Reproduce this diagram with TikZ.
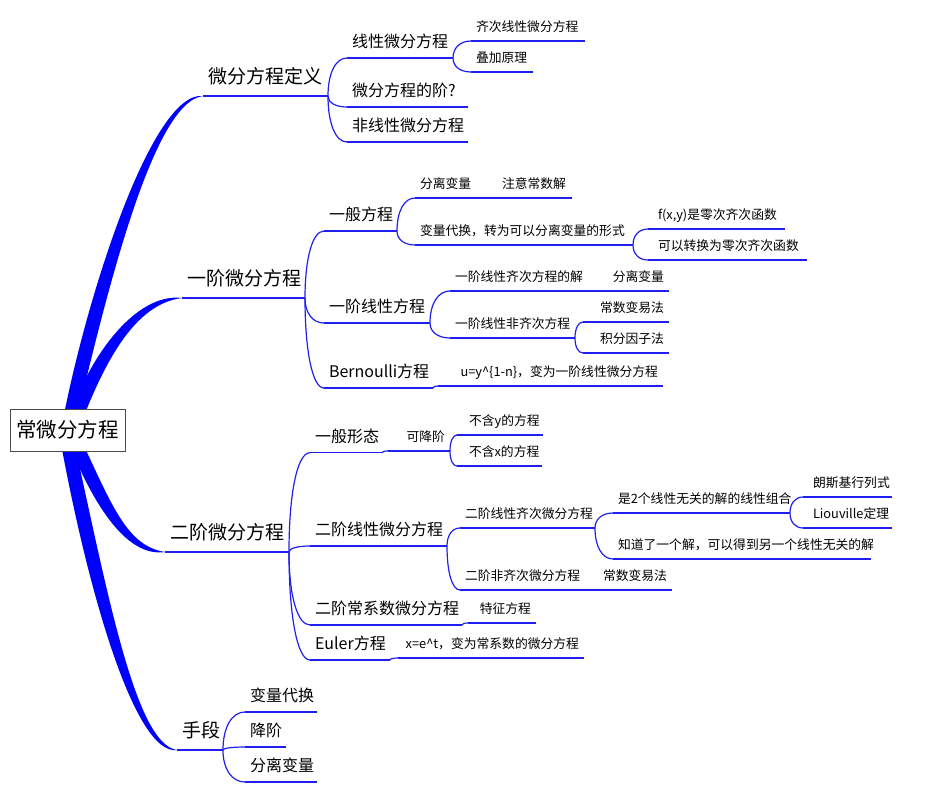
\documentclass[tikz,border=0pt]{standalone}
\usepackage{fontspec}
\setmainfont{Noto Sans CJK SC}
\usetikzlibrary{calc, backgrounds}
\definecolor{TrunkBlue}{rgb}{0, 0, 1}
\definecolor{LineBlue}{rgb}{0.12, 0.12, 0.95}

\begin{document}
\begin{tikzpicture}[
    x=1pt, y=-1pt,
    trunk/.style={fill=TrunkBlue},
    line/.style={LineBlue, line width=1.2pt},
    link/.style={line, to path={.. controls ($(\tikztostart)!0.6!(\tikztostart|-\tikztotarget)$)
        and ($(\tikztotarget)!0.6!(\tikztostart|-\tikztotarget)$) .. (\tikztotarget)}},
    rootbox/.style={draw=black!70, fill=white, line width=1pt, minimum width=115pt,
        minimum height=42pt, inner sep=0pt, font=\fontsize{20.5}{24}\selectfont},
    topic/.style={anchor=south west, inner xsep=5pt, text depth=0pt, align=left, outer sep=0pt},
    lvA/.style={topic, font=\fontsize{19}{22}\selectfont, inner ysep=12.3pt},
    lvB/.style={topic, font=\fontsize{16}{19}\selectfont, inner ysep=10.4pt},
    lvC/.style={topic, font=\fontsize{12.8}{15}\selectfont, inner ysep=9.5pt},
]
\useasboundingbox (0,0) rectangle (928,792);

% ---- centre ----
\node[rootbox] (root) at (67.5,430) {常微分方程};

% ---- 微分方程定义 ----
\node[lvA, text width=115pt] (def) at (203,96) {微分方程定义};
\node[lvB, text width=96pt] (lin) at (347,58) {线性微分方程};
\node[lvC, text width=104pt] (homo) at (471,41) {齐次线性微分方程};
\node[lvC, text width=52pt] (sup) at (471,72) {叠加原理};
\node[lvB, text width=111pt] (ord) at (347,107) {微分方程的阶?};
\node[lvB, text width=111pt] (nonlin) at (347,142) {非线性微分方程};

% ---- 一阶微分方程 ----
\node[lvA, text width=113pt] (first) at (182,298) {一阶微分方程};
\node[lvB, text width=63pt] (gen) at (324,231) {一般方程};
\node[lvC, text width=60pt] (sep) at (415,198) {分离变量};
\node[lvC, text width=65pt] (sepc) at (497,198) {注意常数解};
\node[lvC, text width=208pt] (subst) at (415,245) {变量代换，转为可以分离变量的形式};
\node[lvC, inner xsep=10pt, text width=117pt] (homf) at (648,229) {f(x,y)是零次齐次函数};
\node[lvC, inner xsep=10pt, text width=139pt] (toh) at (648,260) {可以转换为零次齐次函数};
\node[lvB, text width=96pt] (fl) at (324,323) {一阶线性方程};
\node[lvC, text width=130pt] (flh) at (450,291) {一阶线性齐次方程的解};
\node[lvC, text width=64pt, align=right] (flhs) at (595,291) {分离变量};
\node[lvC, text width=115pt] (fln) at (450,338) {一阶线性非齐次方程};
\node[lvC, text width=76pt, align=right] (var1) at (583,322) {常数变易法};
\node[lvC, text width=76pt, align=right] (intf) at (583,353) {积分因子法};
\node[lvB, text width=99pt] (bern) at (324,388) {Bernoulli方程};
\node[lvC, text width=215pt, align=right] (bernc) at (438,386) {u=y\textasciicircum\{1-n\}，变为一阶线性微分方程};

% ---- 二阶微分方程 ----
\node[lvA, text width=114pt] (second) at (165,552) {二阶微分方程};
\node[lvB, text width=62pt] (form) at (310,452.7) {一般形态};
\node[lvC, text width=52pt, align=right] (red) at (388,451) {可降阶};
\node[lvC, inner xsep=12pt, text width=62pt] (noy) at (457,435) {不含y的方程};
\node[lvC, inner xsep=12pt, text width=61pt] (nox) at (457,466) {不含x的方程};
\node[lvB, text width=127pt] (sl) at (310,546) {二阶线性微分方程};
\node[lvC, text width=125pt] (slh) at (460,528) {二阶线性齐次微分方程};
\node[lvC, text width=167pt] (comb) at (613,513) {是2个线性无关的解的线性组合};
\node[lvC, inner xsep=10pt, text width=69pt] (wr) at (803,497) {朗斯基行列式};
\node[lvC, inner xsep=10pt, text width=69pt] (liou) at (803,528) {Liouville定理};
\node[lvC, text width=248pt] (know) at (613,559) {知道了一个解，可以得到另一个线性无关的解};
\node[lvC, text width=125pt] (sln) at (460,590) {二阶非齐次微分方程};
\node[lvC, text width=64pt, align=right] (var2) at (598,590) {常数变易法};
\node[lvB, text width=142pt] (cc) at (310,625) {二阶常系数微分方程};
\node[lvC, text width=58pt, align=right] (char) at (468,623) {特征方程};
\node[lvB, text width=70pt] (euler) at (310,660) {Euler方程};
\node[lvC, text width=176pt, align=right] (eulc) at (398,658) {x=e\textasciicircum t，变为常系数的微分方程};

% ---- 手段 ----
\node[lvA, text width=36pt] (tools) at (177,750) {手段};
\node[lvB, text width=62pt] (t1) at (245,712) {变量代换};
\node[lvB, text width=31pt] (t2) at (245,747) {降阶};
\node[lvB, text width=62pt] (t3) at (245,782) {分离变量};

% underlines
\foreach \n in {def,lin,homo,sup,ord,nonlin,first,gen,sep,sepc,subst,homf,toh,fl,flh,flhs,
    fln,var1,intf,bern,bernc,second,form,red,noy,nox,sl,slh,comb,wr,liou,know,sln,var2,
    cc,char,euler,eulc,tools,t1,t2,t3}
    \draw[line] (\n.south west) -- (\n.south east);

% thin branches
\foreach \pa/\ch in {def/lin,def/ord,def/nonlin,lin/homo,lin/sup,
    first/gen,gen/sep,sep/sepc,gen/subst,subst/homf,subst/toh,
    first/fl,fl/flh,flh/flhs,fl/fln,fln/var1,fln/intf,first/bern,bern/bernc,
    second/form,form/red,red/noy,red/nox,second/sl,sl/slh,slh/comb,comb/wr,comb/liou,
    slh/know,sl/sln,sln/var2,second/cc,cc/char,second/euler,euler/eulc,
    tools/t1,tools/t2,tools/t3}
    \draw[link] (\pa.south east) to (\ch.south west);

% thick branches from the centre
\begin{scope}[on background layer]
  \fill[trunk] ($(root.center)+(-6.5,0)$) .. controls (85,300) and (152,90) .. (def.south west)
      .. controls (152,102) and (105,300) .. ($(root.center)+(6.5,0)$) -- cycle;
  \fill[trunk] ($(root.center)+(-2,0)$) .. controls (85,360) and (135,292) .. (first.south west)
      .. controls (135,304) and (105,360) .. ($(root.center)+(11,0)$) -- cycle;
  \fill[trunk] ($(root.center)+(-4,0)$) .. controls (90,500) and (125,558) .. (second.south west)
      .. controls (125,546) and (110,500) .. ($(root.center)+(9,0)$) -- cycle;
  \fill[trunk] ($(root.center)+(-9,0)$) .. controls (87,590) and (135,756) .. (tools.south west)
      .. controls (135,744) and (107,590) .. ($(root.center)+(4,0)$) -- cycle;
\end{scope}
\end{tikzpicture}
\end{document}
